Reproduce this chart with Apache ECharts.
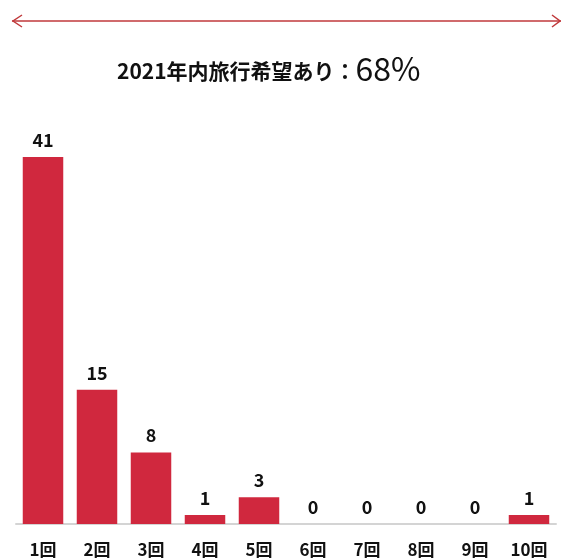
<!DOCTYPE html>
<html>
<head>
<meta charset="utf-8">
<script src="https://cdn.jsdelivr.net/npm/echarts@6/dist/echarts.min.js"></script>
<style>
  html, body { margin: 0; padding: 0; background: #fff; }
  #chart { width: 561px; height: 558px; }
</style>
</head>
<body>
<div id="chart"></div>
<script>
// 旅行回数ごとの人数
var categories = ['1回', '2回', '3回', '4回', '5回', '6回', '7回', '8回', '9回', '10回'];
var counts = [41, 15, 8, 1, 3, 0, 0, 0, 0, 1];
var titleText = '2021年内旅行希望あり：';
var titleValue = '68%';

var myChart = echarts.init(document.getElementById('chart'));

var option = {
    animation: false,
    title: {
        text: '{a|' + titleText + '}{b|' + titleValue + '}',
        left: 112,
        top: 48,
        textStyle: {
            rich: {
                a: { fontSize: 21, fontWeight: 'bold', color: '#111', fontFamily: 'Noto Sans CJK JP', verticalAlign: 'bottom', padding: [0, 0, 3, 0] },
                b: { fontSize: 32, fontWeight: 'normal', color: '#111', fontFamily: 'Noto Sans CJK JP', verticalAlign: 'bottom' }
            }
        }
    },
    grid: {
        left: 16,
        right: 5,
        top: 157,
        bottom: 34
    },
    xAxis: {
        type: 'category',
        data: categories,
        axisLine: { lineStyle: { color: '#d4d4d4', width: 2 } },
        axisTick: { show: false },
        axisLabel: {
            color: '#111',
            fontSize: 17,
            fontWeight: 'bold',
            margin: 17,
            fontFamily: 'Noto Sans CJK JP'
        }
    },
    yAxis: {
        type: 'value',
        min: 0,
        max: 41,
        show: false
    },
    series: [
        {
            type: 'bar',
            data: counts,
            barWidth: '75%',
            itemStyle: { color: '#d0283e' },
            label: {
                show: true,
                position: 'top',
                distance: 8,
                color: '#111',
                fontSize: 18,
                fontWeight: 'bold',
                fontFamily: 'Noto Sans CJK JP'
            }
        }
    ],
    graphic: [
        {
            type: 'line',
            shape: { x1: 12, y1: 21, x2: 561, y2: 21 },
            style: { stroke: '#c0393b', lineWidth: 1.5 }
        },
        {
            type: 'polyline',
            shape: { points: [[22, 15], [13, 21], [22, 27]] },
            style: { stroke: '#c0393b', lineWidth: 1.5, fill: null }
        },
        {
            type: 'polyline',
            shape: { points: [[552, 15], [560, 21], [552, 27]] },
            style: { stroke: '#c0393b', lineWidth: 1.5, fill: null }
        }
    ]
};

myChart.setOption(option);
</script>
</body>
</html>
